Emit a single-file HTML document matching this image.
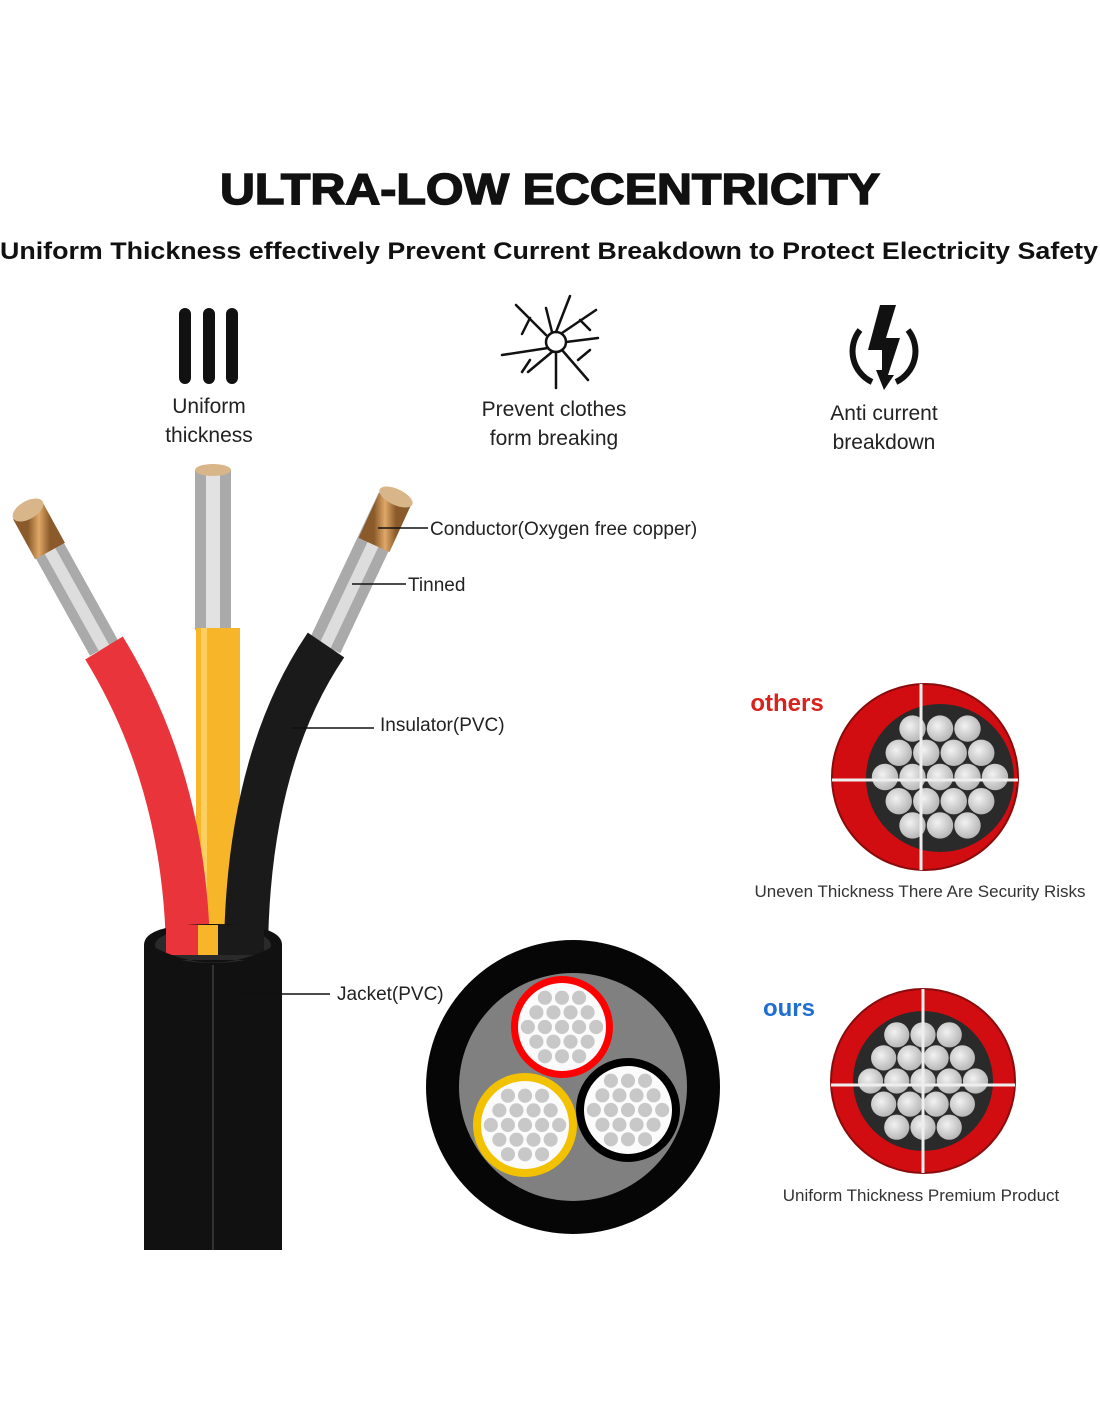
<!DOCTYPE html>
<html><head><meta charset="utf-8"><style>
html,body{margin:0;padding:0;background:#fff;}
svg{display:block;}
text{font-family:"Liberation Sans",sans-serif;}
</style></head><body>
<svg width="1100" height="1422" viewBox="0 0 1100 1422" xmlns="http://www.w3.org/2000/svg">
<defs>
<g id="dots">
<circle cx="0" cy="0" r="5.8"/><circle cx="14" cy="0" r="5.8"/><circle cx="-14" cy="0" r="5.8"/>
<circle cx="7" cy="12" r="5.8"/><circle cx="-7" cy="12" r="5.8"/><circle cx="7" cy="-12" r="5.8"/><circle cx="-7" cy="-12" r="5.8"/>
<circle cx="28" cy="0" r="5.8"/><circle cx="-28" cy="0" r="5.8"/><circle cx="14" cy="24" r="5.8"/><circle cx="-14" cy="24" r="5.8"/>
<circle cx="14" cy="-24" r="5.8"/><circle cx="-14" cy="-24" r="5.8"/><circle cx="0" cy="24" r="5.8"/><circle cx="0" cy="-24" r="5.8"/>
<circle cx="21" cy="12" r="5.8"/><circle cx="-21" cy="12" r="5.8"/><circle cx="21" cy="-12" r="5.8"/><circle cx="-21" cy="-12" r="5.8"/>
</g>
<radialGradient id="sg" cx="0.4" cy="0.4" r="0.6"><stop offset="0" stop-color="#f2f2f2"/><stop offset="1" stop-color="#b8b8b8"/></radialGradient>
<g id="big">
<circle cx="0" cy="0" r="12"/><circle cx="25" cy="0" r="12"/><circle cx="-25" cy="0" r="12"/>
<circle cx="12.5" cy="22" r="12"/><circle cx="-12.5" cy="22" r="12"/><circle cx="12.5" cy="-22" r="12"/><circle cx="-12.5" cy="-22" r="12"/>
<circle cx="50" cy="0" r="12"/><circle cx="-50" cy="0" r="12"/><circle cx="25" cy="44" r="12"/><circle cx="-25" cy="44" r="12"/>
<circle cx="25" cy="-44" r="12"/><circle cx="-25" cy="-44" r="12"/><circle cx="0" cy="44" r="12"/><circle cx="0" cy="-44" r="12"/>
<circle cx="37.5" cy="22" r="12"/><circle cx="-37.5" cy="22" r="12"/><circle cx="37.5" cy="-22" r="12"/><circle cx="-37.5" cy="-22" r="12"/>
</g>
<linearGradient id="cu" x1="0" x2="1"><stop offset="0" stop-color="#8a5a2a"/><stop offset=".5" stop-color="#e0a868"/><stop offset="1" stop-color="#8a5a2a"/></linearGradient>
</defs>

<text x="550" y="204" font-size="44" font-weight="900" text-anchor="middle" textLength="660" lengthAdjust="spacingAndGlyphs" fill="#111" stroke="#111" stroke-width="1.5">ULTRA-LOW ECCENTRICITY</text>
<text x="549" y="259" font-size="24" font-weight="bold" text-anchor="middle" textLength="1098" lengthAdjust="spacingAndGlyphs" fill="#111">Uniform Thickness effectively Prevent Current Breakdown to Protect Electricity Safety</text>

<!-- icons -->
<rect x="179" y="308" width="12" height="76" rx="6" fill="#111"/>
<rect x="203" y="308" width="12" height="76" rx="6" fill="#111"/>
<rect x="226" y="308" width="12" height="76" rx="6" fill="#111"/>
<g stroke="#111" stroke-width="2.5" fill="none" stroke-linecap="round">
<circle cx="556" cy="342" r="10"/>
<path d="M546 335 L516 305 M548 348 L502 355 M552 352 L528 372 M556 352 L556 388 M562 350 L588 380 M566 342 L598 338 M562 333 L596 310 M556 332 L570 296 M552 332 L546 308 M530 318 L522 334 M580 320 L590 330 M530 360 L522 372 M578 360 L590 350"/>
</g>
<path d="M860 330 A34 34 0 0 0 872 382 M908 330 A34 34 0 0 1 896 382" stroke="#111" stroke-width="6" fill="none"/>
<path d="M880 305 L896 305 L886 338 L900 338 L888 375 L894 375 L884 390 L876 370 L882 370 L882 350 L868 350 Z" fill="#111"/>

<g font-size="21" fill="#222" text-anchor="middle">
<text x="209" y="413">Uniform</text><text x="209" y="442">thickness</text>
<text x="554" y="416">Prevent clothes</text><text x="554" y="445">form breaking</text>
<text x="884" y="420">Anti current</text><text x="884" y="449">breakdown</text>
</g>

<!-- cable -->
<path d="M30 515 L104 648" stroke="#aaa" stroke-width="32" fill="none"/>
<path d="M30 515 L104 648" stroke="#ddd" stroke-width="12" fill="none"/>
<path d="M28 511 L50 551" stroke="url(#cu)" stroke-width="34" fill="none"/>
<ellipse cx="28" cy="510" rx="17" ry="9" transform="rotate(-30 28 510)" fill="#d9b58a"/>
<path d="M213 470 L213 630" stroke="#aaa" stroke-width="36" fill="none"/>
<path d="M213 470 L213 630" stroke="#e2e2e2" stroke-width="14" fill="none"/>
<path d="M213 470 L213 522" stroke="url(#cu)" stroke-width="36" fill="none"/>
<ellipse cx="213" cy="470" rx="18" ry="6" fill="#d9b58a"/>
<path d="M394 500 L325 646" stroke="#aaa" stroke-width="34" fill="none"/>
<path d="M394 500 L325 646" stroke="#ddd" stroke-width="12" fill="none"/>
<path d="M396 497 L374 545" stroke="url(#cu)" stroke-width="34" fill="none"/>
<ellipse cx="396" cy="497" rx="18" ry="8" transform="rotate(25 396 497)" fill="#d9b58a"/>

<path d="M218 628 L218 945" stroke="#f7b52a" stroke-width="44" fill="none"/>
<path d="M204 628 L204 945" stroke="#fcd060" stroke-width="6" fill="none"/>
<path d="M104 648 Q185 780 188 950" stroke="#e8343a" stroke-width="44" fill="none"/>
<path d="M326 645 Q248 760 246 950" stroke="#1a1a1a" stroke-width="44" fill="none"/>

<path d="M144 945 Q144 924 213 924 Q282 924 282 945 L282 1250 L144 1250 Z" fill="#111"/>
<ellipse cx="213" cy="945" rx="58" ry="18" fill="#2a2a2a"/>
<rect x="166" y="925" width="44" height="30" fill="#e8343a"/>
<rect x="198" y="925" width="20" height="30" fill="#f7b52a"/>
<rect x="218" y="925" width="46" height="30" fill="#1a1a1a"/>
<path d="M150 945 Q213 980 276 945 L282 960 L144 960Z" fill="#111"/>
<line x1="213" y1="965" x2="213" y2="1250" stroke="#333" stroke-width="2"/>

<g stroke="#111" stroke-width="1.5">
<line x1="378" y1="528" x2="428" y2="528"/>
<line x1="352" y1="584" x2="406" y2="584"/>
<line x1="292" y1="728" x2="374" y2="728"/>
<line x1="233" y1="994" x2="330" y2="994"/>
</g>
<g font-size="19" fill="#222">
<text x="430" y="535">Conductor(Oxygen free copper)</text>
<text x="408" y="591">Tinned</text>
<text x="380" y="731">Insulator(PVC)</text>
<text x="337" y="1000">Jacket(PVC)</text>
</g>

<!-- big cross section -->
<circle cx="573" cy="1087" r="147" fill="#060606"/>
<circle cx="573" cy="1087" r="114" fill="#808080"/>
<circle cx="562" cy="1027" r="51" fill="#f00"/>
<circle cx="562" cy="1027" r="44" fill="#fbfbfb"/>
<g fill="#c8c8c8" transform="translate(562 1027) scale(1.22)"><use href="#dots"/></g>
<circle cx="525" cy="1125" r="52" fill="#f2c200"/>
<circle cx="525" cy="1125" r="44" fill="#fbfbfb"/>
<g fill="#c8c8c8" transform="translate(525 1125) scale(1.22)"><use href="#dots"/></g>
<circle cx="628" cy="1110" r="52" fill="#000"/>
<circle cx="628" cy="1110" r="44" fill="#fbfbfb"/>
<g fill="#c8c8c8" transform="translate(628 1110) scale(1.22)"><use href="#dots"/></g>

<!-- others -->
<text x="787" y="711" font-size="24" font-weight="bold" fill="#d8221c" text-anchor="middle">others</text>
<circle cx="925" cy="777" r="93" fill="#d20d12" stroke="#8a0b0b" stroke-width="2"/>
<circle cx="940" cy="778" r="74" fill="#2a2a2a"/>
<g fill="url(#sg)" transform="translate(940 777) scale(1.1)"><use href="#big"/></g>
<line x1="921" y1="684" x2="921" y2="870" stroke="#eee" stroke-width="3"/>
<line x1="832" y1="780" x2="1018" y2="780" stroke="#eee" stroke-width="3"/>
<text x="920" y="897" font-size="17" fill="#333" text-anchor="middle">Uneven Thickness There Are Security Risks</text>

<!-- ours -->
<text x="789" y="1016" font-size="24" font-weight="bold" fill="#1f6fd0" text-anchor="middle">ours</text>
<circle cx="923" cy="1081" r="92" fill="#d20d12" stroke="#8a0b0b" stroke-width="2"/>
<circle cx="923" cy="1081" r="70" fill="#2a2a2a"/>
<g fill="url(#sg)" transform="translate(923 1081) scale(1.05)"><use href="#big"/></g>
<line x1="923" y1="989" x2="923" y2="1173" stroke="#eee" stroke-width="3"/>
<line x1="831" y1="1085" x2="1015" y2="1085" stroke="#eee" stroke-width="3"/>
<text x="921" y="1201" font-size="17" fill="#333" text-anchor="middle">Uniform Thickness Premium Product</text>
</svg>
</body></html>
